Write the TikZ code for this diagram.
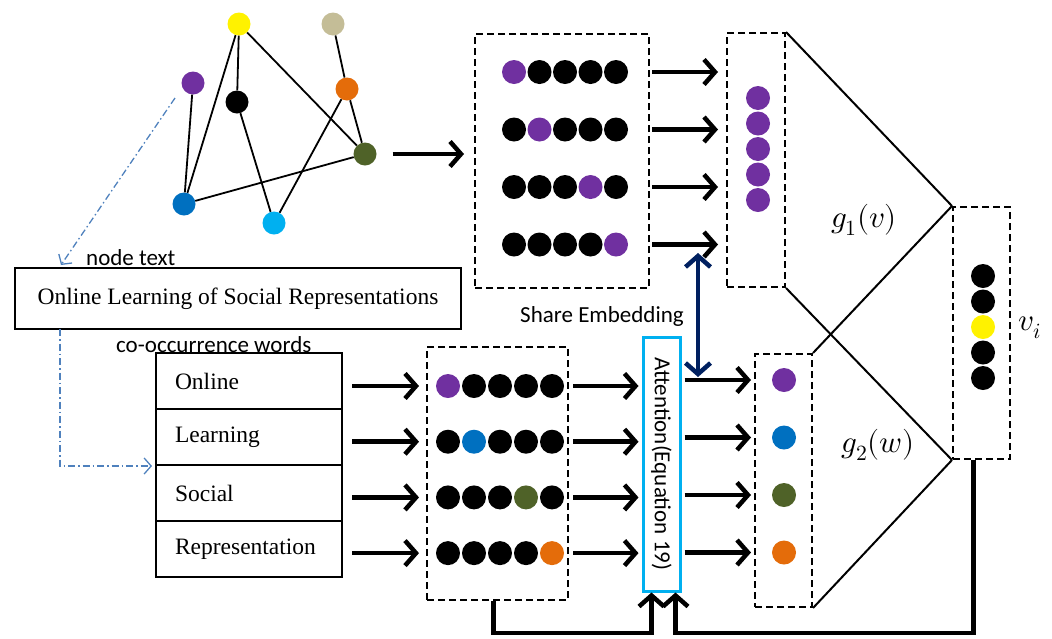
\documentclass[tikz,border=0pt]{standalone}
\usepackage{fontspec}
\usepackage{unicode-math}
\setmainfont{Liberation Serif}
\setmathfont{Latin Modern Math}
\newfontfamily\calib{Carlito}
\usetikzlibrary{arrows.meta}
\definecolor{mypurple}{HTML}{7030A0}
\definecolor{myblue}{HTML}{0070C0}
\definecolor{myolive}{HTML}{4F6228}
\definecolor{myorange}{HTML}{E46C0A}
\definecolor{mytan}{HTML}{C4BD97}
\definecolor{mycyan}{HTML}{00B0F0}
\definecolor{mynavy}{HTML}{002060}
\definecolor{linkblue}{HTML}{4F81BD}

\begin{document}
\begin{tikzpicture}[x=1pt,y=-1pt,
    ball/.style={circle,fill=#1,inner sep=0pt,minimum size=24pt},
    gball/.style={circle,fill=#1,inner sep=0pt,minimum size=23pt},
    glink/.style={line width=1.8pt},
    dbox/.style={draw,line width=2pt,dash pattern=on 7pt off 4pt,inner sep=0pt},
    bigarrow/.style={line width=4.5pt,-{Straight Barb[length=11pt,width=25pt]}},
    linkline/.style={draw=linkblue,line width=1.3pt,dash pattern=on 7pt off 3pt on 1.5pt off 3pt,
        -{Straight Barb[length=7pt,width=16pt]}},
    serif/.style={font=\fontsize{23.5}{27}\selectfont},
    sans/.style={font=\calib\fontsize{23}{27}\selectfont,inner sep=0pt},
    mathlab/.style={font=\fontsize{31}{34}\selectfont,inner sep=0pt}]
    \useasboundingbox (0,0) rectangle (1052,638);

    \node[gball=yellow] (yel) at (239,24) {};
    \node[gball=mytan] (tan) at (333,24) {};
    \node[gball=mypurple] (pur) at (193,83) {};
    \node[gball=black] (blk) at (237,102) {};
    \node[gball=myorange] (org) at (347,89) {};
    \node[gball=myolive] (olv) at (365,154) {};
    \node[gball=myblue] (blu) at (184,204) {};
    \node[gball=mycyan] (cyn) at (274,223) {};
    \draw[glink] (pur) -- (blu);
    \draw[glink] (yel) -- (blu);
    \draw[glink] (yel) -- (blk);
    \draw[glink] (yel) -- (olv);
    \draw[glink] (blk) -- (cyn);
    \draw[glink] (tan) -- (org);
    \draw[glink] (org) -- (cyn);
    \draw[glink] (org) -- (olv);
    \draw[glink] (blu) -- (olv);

    \node[dbox,minimum width=174pt,minimum height=254pt] (topemb) at (562,161) {};
    \foreach \r/\p in {1/1,2/2,3/4,4/5}{
        \foreach \c in {1,...,5}{
            \ifnum\c=\p \def\col{mypurple}\else\def\col{black}\fi
            \node[ball=\col] (t\r\c) at ({514+25.5*(\c-1)},{72+57.5*(\r-1)}) {};
        }
    }
    \node[dbox,minimum width=58pt,minimum height=254pt] (topvec) at (756,160) {};
    \foreach \k in {1,...,5}
        \node[ball=mypurple] (p\k) at (758,{98+25.5*(\k-1)}) {};
    \foreach \r in {1,...,4}
        \draw[bigarrow,shorten <=2pt,shorten >=8pt] (topemb.east |- t\r1) -- (topvec.west |- t\r1);
    \draw[bigarrow,shorten <=16pt,shorten >=10pt] (olv.east) -- (topemb.west |- olv.east);

    \node[dbox,minimum width=57pt,minimum height=252pt] (vivec) at (981.5,333) {};
    \foreach \k/\col in {1/black,2/black,3/yellow,4/black,5/black}
        \node[ball=\col] (v\k) at (983,{276+25.5*(\k-1)}) {};
    \node[mathlab] (vilab) at (1030,328) {$v_i$};

    \node[draw,line width=1.5pt,serif,minimum width=446pt,minimum height=61pt] (tb) at (238,298.5)
        {Online Learning of Social Representations};
    \node[sans,anchor=west] (nodetext) at (86,258) {node text};
    \node[sans,anchor=west] (cowords) at (116,345) {co-occurrence words};
    \foreach \r/\w in {1/Online,2/Learning,3/Social,4/Representation}
        \node[draw,line width=2pt,serif,minimum width=186pt,minimum height=56pt,text width=148pt,
            align=left,inner sep=0pt] (w\r) at (249,{381+56*(\r-1)}) {\w};

    \coordinate (dstart) at (175,98);
    \coordinate (dtip) at (61,265);
    \coordinate (dfoot) at (60,329);
    \draw[linkline] (dstart) -- (dtip);
    \draw[linkline] (dfoot) |- ([xshift=-3pt]w2.south west);

    \node[dbox,minimum width=141pt,minimum height=253pt] (botemb) at (497.5,473.5) {};
    \foreach \r/\p/\col in {1/1/mypurple,2/2/myblue,3/4/myolive,4/5/myorange}{
        \foreach \c in {1,...,5}{
            \ifnum\c=\p \def\dcol{\col}\else\def\dcol{black}\fi
            \node[ball=\dcol] (e\r\c) at ({448+26*(\c-1)},{386+55.7*(\r-1)}) {};
        }
    }
    \foreach \r in {1,...,4}
        \draw[bigarrow,shorten <=9pt,shorten >=7pt] (w\r.east |- e\r1) -- (botemb.west |- e\r1);

    \node[draw=mycyan,line width=3pt,minimum width=37pt,minimum height=254pt,inner sep=0pt,
        font=\calib\fontsize{23}{27}\selectfont] (att) at (661.5,464) {\rotatebox{-90}{Attention(Equation 19)}};
    \foreach \r in {1,...,4}
        \draw[bigarrow,shorten <=4pt,shorten >=3pt] (botemb.east |- e\r1) -- (att.west |- e\r1);

    \node[dbox,minimum width=57pt,minimum height=253pt] (botvec) at (783.5,480.5) {};
    \foreach \k/\col in {1/mypurple,2/myblue,3/myolive,4/myorange}
        \node[ball=\col] (b\k) at (784,{380+57.5*(\k-1)}) {};
    \foreach \k in {1,...,4}
        \draw[bigarrow,shorten <=3pt,shorten >=3pt] (att.east |- b\k) -- (botvec.west |- b\k);

    \draw[line width=2pt] (topvec.north east) -- (vivec.north west);
    \draw[line width=2pt] (topvec.south east) -- (vivec.south west);
    \draw[line width=2pt] (botvec.north east) -- (vivec.north west);
    \draw[line width=2pt] (botvec.south east) -- (vivec.south west);
    \node[mathlab] (g1) at (864,220) {$g_1(v)$};
    \node[mathlab] (g2) at (878,445) {$g_2(w)$};

    \coordinate (sh1) at (698,253);
    \coordinate (sh2) at (698,377);
    \draw[line width=4.5pt,draw=mynavy,{Straight Barb[length=11pt,width=25pt]}-{Straight Barb[length=11pt,width=25pt]}]
        (sh1) -- (sh2);
    \node[sans] (share) at (602,316) {Share Embedding};

    \draw[bigarrow] ([xshift=-4pt]botemb.south) -- ([xshift=-4pt]botemb.south |- 0,633)
        -| ([xshift=-10pt]att.south);
    \draw[bigarrow] ([xshift=-8pt]vivec.south) -- ([xshift=-8pt]vivec.south |- 0,633)
        -| ([xshift=14pt]att.south);
\end{tikzpicture}
\end{document}
